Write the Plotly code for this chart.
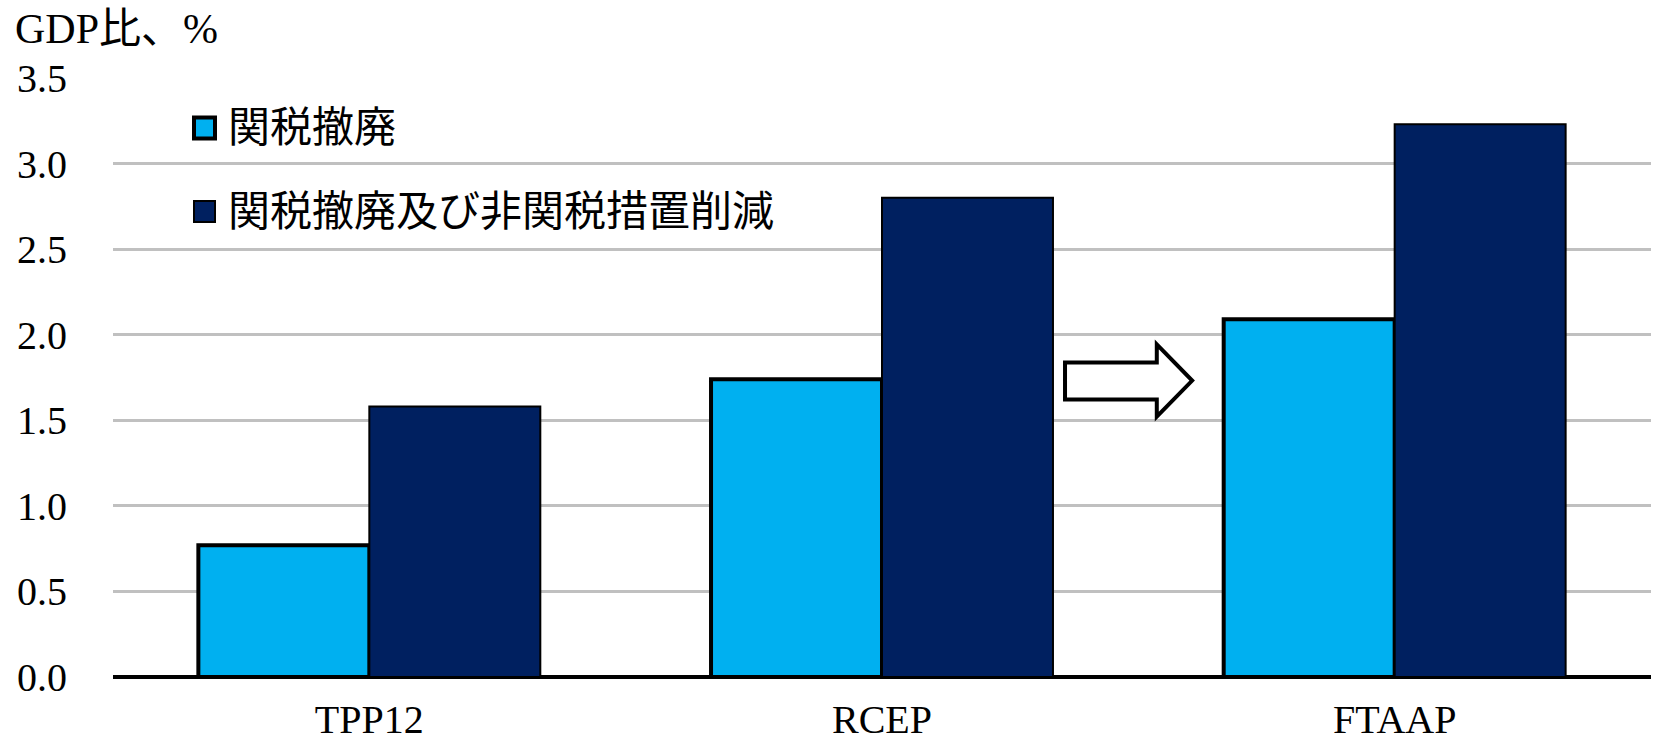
import plotly.graph_objects as go

categories = ["TPP12", "RCEP", "FTAAP"]
series_names = ["関税撤廃", "関税撤廃及び非関税措置削減"]
tariff_only = [0.77, 1.74, 2.09]
tariff_and_ntm = [1.58, 2.80, 3.23]
y_ticks = [0.0, 0.5, 1.0, 1.5, 2.0, 2.5, 3.0, 3.5]
y_title = "GDP比、%"

light = "#00B0F0"
dark = "#002060"
FONT = "Liberation Serif, Times New Roman, Noto Sans CJK JP, serif"

W, H = 1653, 744
ML, MR, MT, MB = 113, 2, 78, 67
PW, PH = W - ML - MR, H - MT - MB


def px(x):
    return (x - ML) / PW


def py(y):
    return (H - MB - y) / PH


fig = go.Figure()
fig.add_trace(go.Bar(x=categories, y=tariff_only, name=series_names[0],
                     marker=dict(color=light, line=dict(color="black", width=4)),
                     showlegend=False))
fig.add_trace(go.Bar(x=categories, y=tariff_and_ntm, name=series_names[1],
                     marker=dict(color=dark, line=dict(color="black", width=2)),
                     showlegend=False))

# block arrow
fig.add_shape(type="path",
              path="M 1.357,1.621 L 1.536,1.621 L 1.536,1.521 L 1.605,1.732 "
                   "L 1.536,1.943 L 1.536,1.837 L 1.357,1.837 Z",
              xref="x", yref="y", fillcolor="white",
              line=dict(color="black", width=4))

# manual legend
legend_items = [
    (series_names[0], light, 4, 128),
    (series_names[1], dark, 2, 211.5),
]
for name, col, lw, cy in legend_items:
    fig.add_shape(type="rect", xref="paper", yref="paper",
                  x0=px(194), x1=px(215), y0=py(cy - 10.5), y1=py(cy + 10.5),
                  fillcolor=col, line=dict(color="black", width=lw))
    fig.add_annotation(text=name, xref="paper", yref="paper",
                       x=px(226), y=py(cy), xanchor="left", yanchor="middle",
                       showarrow=False,
                       font=dict(family=FONT, size=42, color="black"))

fig.add_annotation(text=y_title, xref="paper", yref="paper", x=px(13), y=py(29),
                   xanchor="left", yanchor="middle",
                   showarrow=False, font=dict(family=FONT, size=42, color="black"))

fig.update_layout(
    width=W, height=H,
    margin=dict(l=ML, r=MR, t=MT, b=MB),
    paper_bgcolor="white", plot_bgcolor="white",
    barmode="group", bargap=0.333, bargroupgap=0,
    font=dict(family=FONT, size=40, color="black"),
    showlegend=False,
    xaxis=dict(range=[-0.5, 2.5], showgrid=False, ticks="", automargin=False,
               ticklabelstandoff=15, tickfont=dict(size=40)),
    yaxis=dict(range=[0, 3.5], tickvals=y_ticks, automargin=False,
               ticktext=[f"{v:.1f}" for v in y_ticks],
               showgrid=True, gridcolor="#C0C0C0", gridwidth=3,
               zeroline=True, zerolinecolor="black", zerolinewidth=4,
               ticks="", ticklabelstandoff=45, tickfont=dict(size=40)),
)

fig.write_html("out.html")
